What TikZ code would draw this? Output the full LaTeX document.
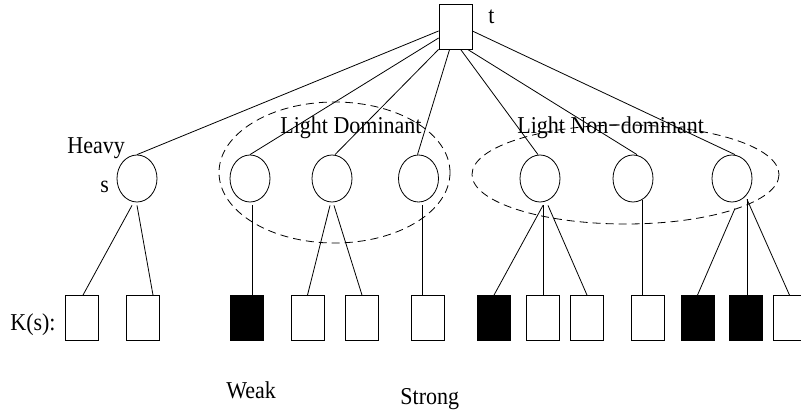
\documentclass[tikz,border=0pt]{standalone}
\usepackage{fontspec}
\setmainfont{Liberation Serif}
\usetikzlibrary{shapes.geometric}
\newcommand{\vstretch}[1]{\scalebox{1}[1.1]{#1}}
\begin{document}
\begin{tikzpicture}[x=1pt,y=-1pt,line width=0.8pt,
  lbl/.style={inner sep=0pt, anchor=base west, font=\fontsize{22}{26}\selectfont},
  tbox/.style={draw, rectangle, minimum width=33pt, minimum height=45pt, inner sep=0pt},
  kbox/.style={draw, rectangle, minimum width=33pt, minimum height=45pt, inner sep=0pt},
  kblack/.style={kbox, fill=black},
  sset/.style={draw, ellipse, minimum width=40pt, minimum height=47pt, inner sep=0pt},
  grp/.style={dash pattern=on 8pt off 5pt}
]
\useasboundingbox (0,0) rectangle (801,412);

% root
\node[tbox] (t) at (455.5,26.5) {};
\node[lbl] (tl) at (488,24) {\vstretch{t}};

% second level
\node[sset] (c1) at (137,178.5) {};
\node[sset] (c2) at (250,178.5) {};
\node[sset] (c3) at (332,178.5) {};
\node[sset] (c4) at (418.5,178.5) {};
\node[sset] (c5) at (540,178.5) {};
\node[sset] (c6) at (633,178.5) {};
\node[sset] (c7) at (732,178.5) {};

% K(s) boxes
\node[kbox]   (b1)  at (82,318) {};
\node[kbox]   (b2)  at (142.5,318) {};
\node[kblack] (b3)  at (247,318) {};
\node[kbox]   (b4)  at (307.5,318) {};
\node[kbox]   (b5)  at (362,318) {};
\node[kbox]   (b6)  at (428,318) {};
\node[kblack] (b7)  at (494,318) {};
\node[kbox]   (b8)  at (543,318) {};
\node[kbox]   (b9)  at (587,318) {};
\node[kbox]   (b10) at (647.5,318) {};
\node[kblack] (b11) at (697.5,318) {};
\node[kblack] (b12) at (746,318) {};
\node[kbox]   (b13) at (789.5,318) {};

% dashed groups
\draw[grp] (334.5,172.5) ellipse [x radius=115.5, y radius=70.5];
\draw[grp] (625.5,174.5) ellipse [x radius=153.5, y radius=49.5];

% edges from t
\draw ([shift={(0,4.5)}]t.west) -- (c1.north);
\draw ([shift={(0,11.5)}]t.west) -- (c2.north);
\draw (t.south west) -- ([shift={(3,0)}]c3.north);
\draw ([shift={(11,0)}]t.south west) -- ([shift={(-1,0)}]c4.north);
\draw ([shift={(22,0)}]t.south west) -- ([shift={(-2,0)}]c5.north);
\draw ([shift={(29,0)}]t.south west) -- ([shift={(4,0)}]c6.north);
\draw ([shift={(0,4.5)}]t.east) -- ([shift={(3,0)}]c7.north);

% edges to K(s)
\draw ([shift={(-5,3)}]c1.south) -- ([shift={(1,0)}]b1.north);
\draw ([shift={(0,3)}]c1.south) -- ([shift={(10.5,0)}]b2.north);
\draw ([shift={(2,3)}]c2.south) -- ([shift={(5,0)}]b3.north);
\draw ([shift={(-2,3)}]c3.south) -- (b4.north);
\draw ([shift={(2,3)}]c3.south) -- (b5.north);
\draw ([shift={(3.5,3)}]c4.south) -- ([shift={(-6,0)}]b6.north);
\draw ([shift={(3,3)}]c5.south) -- (b7.north);
\draw ([shift={(3,3)}]c5.south) -- (b8.north);
\draw ([shift={(8,3)}]c5.south) -- (b9.north);
\draw ([shift={(9,-2)}]c6.south) -- ([shift={(-5.5,0)}]b10.north);
\draw ([shift={(3,6)}]c7.south) -- (b11.north);
\draw ([shift={(15,-3)}]c7.south) -- ([shift={(1,0)}]b12.north);
\draw ([shift={(15,-3)}]c7.south) -- (b13.north);

% labels
\node[lbl] (heavy) at (67,153) {\vstretch{Heavy}};
\node[lbl] (sl) at (100,192) {\vstretch{s}};
\node[lbl] (ld) at (280,133) {\vstretch{Light Dominant}};
\node[lbl] (lnd) at (517,133) {\vstretch{Light Non−dominant}};
\node[lbl] (ks) at (10,330) {\vstretch{K(s):}};
\node[lbl] (weak) at (226,398) {\vstretch{Weak}};
\node[lbl] (strong) at (400,404) {\vstretch{Strong}};
\end{tikzpicture}
\end{document}
